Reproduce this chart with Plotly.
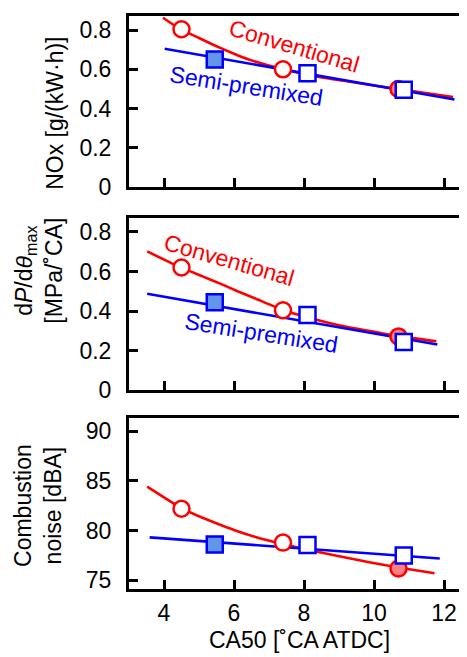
import plotly.graph_objects as go

# ---- data ----
conv_x = [4.5, 7.4, 10.7]
semi_x = [5.45, 8.1, 10.85]

nox_conv = [0.805, 0.60, 0.50]
nox_semi = [0.65, 0.58, 0.495]
dp_conv = [0.62, 0.404, 0.272]
dp_semi = [0.445, 0.38, 0.244]
noise_conv = [82.2, 78.8, 76.2]
noise_semi = [78.6, 78.55, 77.5]

# fitted trend curves
nox_conv_fit_x = [3.97, 4.47, 5.0, 5.45, 6.0, 6.4, 7.4, 8.3, 9.26, 10.64, 12.26]
nox_conv_fit_y = [0.864, 0.805, 0.76, 0.722, 0.68, 0.652, 0.60, 0.565, 0.538, 0.50, 0.458]
nox_semi_fit_x = [4.02, 12.3]
nox_semi_fit_y = [0.705, 0.446]

dp_conv_fit_x = [3.52, 4.49, 5.1, 5.64, 6.1, 6.59, 7.42, 8.2, 8.97, 10.73, 11.78]
dp_conv_fit_y = [0.701, 0.619, 0.575, 0.536, 0.50, 0.465, 0.404, 0.364, 0.33, 0.272, 0.248]
dp_semi_fit_x = [3.52, 11.81]
dp_semi_fit_y = [0.487, 0.231]

noise_conv_fit_x = [3.52, 4.52, 5.1, 5.64, 6.1, 6.59, 7.45, 8.2, 8.97, 9.9, 10.78, 11.73]
noise_conv_fit_y = [84.43, 82.22, 81.3, 80.55, 79.95, 79.4, 78.6, 78.0, 77.45, 76.8, 76.25, 75.72]
noise_semi_fit_x = [3.59, 11.88]
noise_semi_fit_y = [79.33, 77.2]

x_ticks = [4, 6, 8, 10, 12]
nox_ticks = [0, 0.2, 0.4, 0.6, 0.8]
nox_ticklabels = ["0", "0.2", "0.4", "0.6", "0.8"]
dp_ticks = [0, 0.2, 0.4, 0.6, 0.8]
dp_ticklabels = ["0", "0.2", "0.4", "0.6", "0.8"]
noise_ticks = [75, 80, 85, 90]

RED = "#ff0000"
BLUE = "#0000ff"
RED_FILL = "#ff8080"
BLUE_FILL = "#6495ed"
FONT = "Liberation Sans, Arial, sans-serif"
FS = 23

W, H = 467, 657

fig = go.Figure()

panels = [
    ("x", "y", nox_conv_fit_x, nox_conv_fit_y, nox_semi_fit_x, nox_semi_fit_y, nox_conv, nox_semi),
    ("x2", "y2", dp_conv_fit_x, dp_conv_fit_y, dp_semi_fit_x, dp_semi_fit_y, dp_conv, dp_semi),
    ("x3", "y3", noise_conv_fit_x, noise_conv_fit_y, noise_semi_fit_x, noise_semi_fit_y, noise_conv, noise_semi),
]

for xa, ya, cfx, cfy, sfx, sfy, cv, sv in panels:
    fig.add_trace(go.Scatter(x=cfx, y=cfy, xaxis=xa, yaxis=ya, mode="lines",
                             line=dict(color=RED, width=2.6, shape="spline", smoothing=0.5),
                             showlegend=False, hoverinfo="skip"))
    fig.add_trace(go.Scatter(x=sfx, y=sfy, xaxis=xa, yaxis=ya, mode="lines",
                             line=dict(color=BLUE, width=2.6),
                             showlegend=False, hoverinfo="skip"))
    fig.add_trace(go.Scatter(x=conv_x, y=cv, xaxis=xa, yaxis=ya, mode="markers",
                             marker=dict(symbol="circle", size=16,
                                         color=["white", "white", RED_FILL],
                                         line=dict(color=RED, width=2.5)),
                             showlegend=False))
    fig.add_trace(go.Scatter(x=semi_x, y=sv, xaxis=xa, yaxis=ya, mode="markers",
                             marker=dict(symbol="square", size=16,
                                         color=[BLUE_FILL, "white", "white"],
                                         line=dict(color=BLUE, width=2.5)),
                             showlegend=False))

x_left = 121 / W
def ydom(top_px, bot_px):
    return [1 - bot_px / H, 1 - top_px / H]

common_x = dict(range=[3, 3 + (W - 121) / 35], tickvals=x_ticks, ticks="inside", ticklen=9,
                tickwidth=2.5, tickcolor="black", showline=True, linewidth=3, linecolor="black",
                mirror=True, showgrid=False, zeroline=False,
                tickfont=dict(family=FONT, size=FS, color="black"), domain=[x_left, 1])
common_y = dict(ticks="inside", ticklen=9, tickwidth=2.5, tickcolor="black", showline=True,
                linewidth=3, linecolor="black", showgrid=False, zeroline=False,
                tickfont=dict(family=FONT, size=FS, color="black"), ticklabelstandoff=10)

fig.update_layout(
    width=W, height=H, margin=dict(l=0, r=0, t=0, b=0),
    plot_bgcolor="white", paper_bgcolor="white", showlegend=False,
    xaxis=dict(common_x, anchor="y", showticklabels=False),
    xaxis2=dict(common_x, anchor="y2", showticklabels=False),
    xaxis3=dict(common_x, anchor="y3", showticklabels=True, ticklabelstandoff=2),
    yaxis=dict(common_y, anchor="x", domain=ydom(8.5, 182.3), range=[0, 0.871],
               tickvals=nox_ticks, ticktext=nox_ticklabels),
    yaxis2=dict(common_y, anchor="x2", domain=ydom(214, 390), range=[0, 0.871],
                tickvals=dp_ticks, ticktext=dp_ticklabels),
    yaxis3=dict(common_y, anchor="x3", domain=ydom(418.3, 592.3), range=[74.18, 91.32],
                tickvals=noise_ticks),
)

def pann(text, xpx, ypx, angle=-90, color="black"):
    fig.add_annotation(text=text, xref="paper", yref="paper", x=xpx / W, y=1 - ypx / H,
                       xanchor="center", yanchor="middle", showarrow=False, textangle=angle,
                       font=dict(family=FONT, size=FS, color=color))

pann("NOx [g/(kW·h)]", 47, 108)
pann("d<i>P</i>/d<i>θ</i><sub>max</sub><br>[MPa/˚CA]", 31, 268)
pann("Combustion<br>noise [dBA]", 30, 508)
pann("CA50 [˚CA ATDC]", 291, 645, angle=0)

def dann(text, x, y, xa, ya, angle, color):
    fig.add_annotation(text=text, xref=xa, yref=ya, x=x, y=y, xanchor="center", yanchor="middle",
                       showarrow=False, textangle=angle, font=dict(family=FONT, size=FS, color=color))

dann("Conventional", 7.71, 0.718, "x", "y", 16.5, RED)
dann("Semi-premixed", 6.35, 0.513, "x", "y", 9, BLUE)
dann("Conventional", 5.85, 0.657, "x2", "y2", 16, RED)
dann("Semi-premixed", 6.78, 0.289, "x2", "y2", 9, BLUE)

fig.write_html("out.html")
